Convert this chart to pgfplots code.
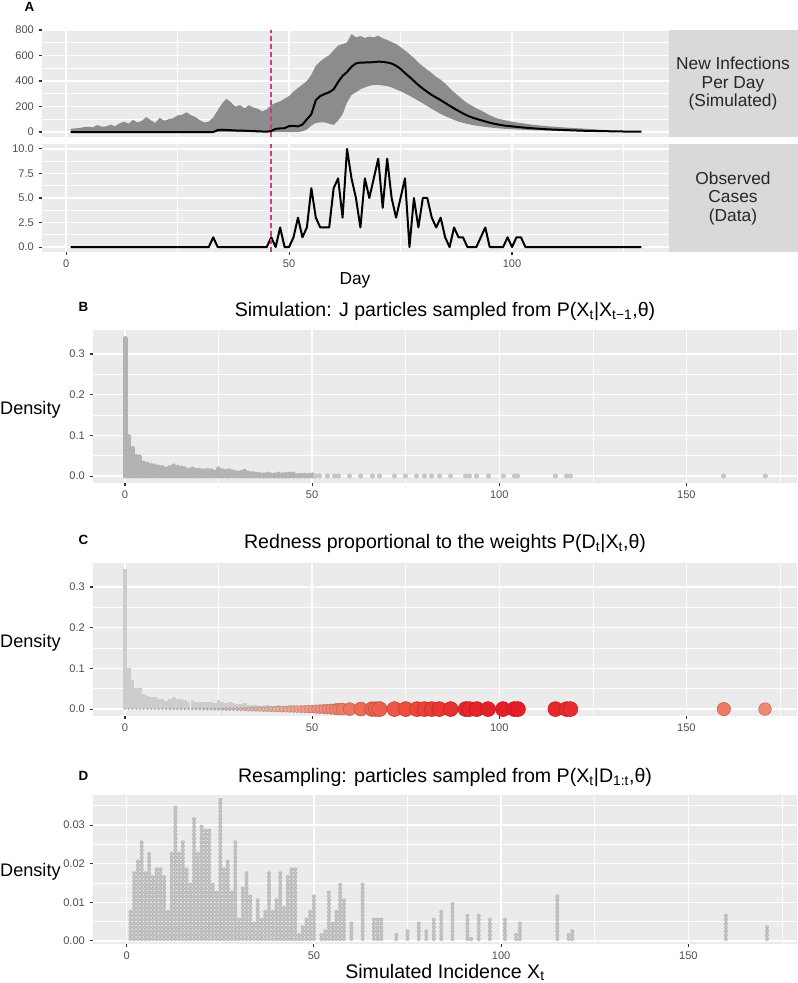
\documentclass[border=0pt]{standalone}
\usepackage{fontspec}
\setmainfont{Liberation Sans}
\usepackage{pgfplots}
\pgfplotsset{compat=1.18}
\usepackage{pgfplotstable}
\definecolor{panelbg}{HTML}{EBEBEB}
\definecolor{stripbg}{HTML}{D9D9D9}
\definecolor{tlab}{HTML}{4D4D4D}
\definecolor{tickc}{HTML}{333333}
\definecolor{ribbon}{HTML}{8C8C8C}
\definecolor{vline}{HTML}{CF3A86}
\definecolor{dotB}{HTML}{B3B3B3}
\definecolor{dotBs}{HTML}{C6C6C6}
\definecolor{barC}{HTML}{CDCDCD}
\definecolor{dotDo}{HTML}{B6B6B6}
\definecolor{dotDi}{HTML}{C6C6C6}

\pgfplotstableread{
x y
0 0.338
1 0.097
2 0.068
3 0.048
4 0.047
5 0.032
6 0.029
7 0.026
8 0.025
9 0.022
10 0.021
11 0.017
12 0.021
13 0.025
14 0.022
15 0.020
16 0.018
17 0.014
18 0.018
19 0.014
20 0.014
21 0.013
22 0.014
23 0.013
24 0.010
25 0.018
26 0.013
27 0.012
28 0.013
29 0.010
30 0.008
31 0.009
32 0.012
33 0.007
34 0.006
35 0.005
36 0.004
37 0.003
38 0.005
39 0.003
40 0.003
41 0.005
42 0.003
43 0.004
44 0.005
45 0.005
46 0.001
47 0.002
48 0.002
49 0.002
50 0.003
}\histB

\pgfplotstableread{
x y
51 0.0005
52 0.0005
54 0.0005
56 0.0005
57 0.0005
60 0.0005
63 0.0005
66 0.0005
68 0.0005
72 0.0005
75 0.0005
78 0.0005
80 0.0005
82 0.0005
84 0.0005
87 0.0005
91 0.0005
92 0.0005
94 0.0005
97 0.0005
101 0.0005
104 0.0005
105 0.0005
115 0.0005
118 0.0005
119 0.0005
160 0.0005
171 0.0005
}\sparseB

\pgfplotstableread{
x y
0 0.344
1 0.101
2 0.072
3 0.052
4 0.051
5 0.036
6 0.033
7 0.030
8 0.029
9 0.026
10 0.025
11 0.021
12 0.025
13 0.029
14 0.026
15 0.024
16 0.022
17 0.018
18 0.022
19 0.018
20 0.018
21 0.017
22 0.018
23 0.017
24 0.014
25 0.022
26 0.017
27 0.016
28 0.017
29 0.014
30 0.012
31 0.013
32 0.016
33 0.011
34 0.010
35 0.009
36 0.008
37 0.007
38 0.009
39 0.007
40 0.007
41 0.009
42 0.007
43 0.008
44 0.009
45 0.009
46 0.005
47 0.006
48 0.006
49 0.006
50 0.007
}\histC

\pgfplotstableread{
x y w r
0 0 0 0.38
1 0 0 0.38
2 0 0 0.38
3 0 0 0.39
4 0 0 0.39
5 0 0 0.40
6 0 0 0.41
7 0 0 0.42
8 0 0 0.44
9 0 0 0.46
10 0 0 0.48
11 0 0.002 0.50
12 0 0.005 0.53
13 0 0.009 0.55
14 0 0.013 0.58
15 0 0.018 0.61
16 0 0.023 0.65
17 0 0.029 0.68
18 0 0.035 0.72
19 0 0.041 0.76
20 0 0.048 0.80
21 0 0.055 0.84
22 0 0.063 0.88
23 0 0.071 0.93
24 0 0.079 0.98
25 0 0.088 1.03
26 0 0.097 1.08
27 0 0.106 1.14
28 0 0.116 1.20
29 0 0.126 1.26
30 0 0.136 1.32
31 0 0.147 1.38
32 0 0.158 1.45
33 0 0.169 1.52
34 0 0.180 1.59
35 0 0.192 1.66
36 0 0.204 1.74
37 0 0.216 1.81
38 0 0.228 1.89
39 0 0.241 1.97
40 0 0.254 2.06
41 0 0.267 2.14
42 0 0.280 2.23
43 0 0.293 2.32
44 0 0.307 2.41
45 0 0.321 2.50
46 0 0.335 2.60
47 0 0.349 2.70
48 0 0.363 2.80
49 0 0.378 2.90
50 0 0.392 3.00
51 0 0.40 3.2
52 0 0.42 3.4
53 0 0.44 3.55
54 0 0.46 3.75
55 0 0.48 3.9
56 0 0.50 4.1
57 0 0.52 4.3
58 0 0.54 4.45
60 0 0.57 4.8
63 0 0.62 5.2
66 0 0.66 5.5
67 0 0.67 5.5
68 0 0.69 5.6
72 0 0.74 5.6
75 0 0.78 5.6
78 0 0.82 5.6
80 0 0.84 5.6
82 0 0.87 5.6
84 0 0.89 5.6
87 0 0.92 5.6
91 0 0.96 5.6
92 0 0.97 5.6
94 0 0.98 5.6
97 0 0.99 5.6
101 0 1.00 5.6
104 0 1.00 5.6
105 0 1.00 5.6
115 0 0.96 5.6
118 0 0.94 5.6
119 0 0.93 5.6
160 0 0.55 5.0
171 0 0.48 4.75
}\dotsC

\pgfplotstableread{
x y
1 0.0085
2 0.0184
3 0.0206
4 0.0265
5 0.0176
6 0.0226
7 0.0166
8 0.0186
9 0.0195
10 0.0166
11 0.0085
12 0.0226
13 0.0347
14 0.0226
15 0.0265
16 0.0186
17 0.0146
18 0.0325
19 0.0226
20 0.0305
21 0.0290
22 0.0286
23 0.0146
24 0.0133
25 0.0366
26 0.0195
27 0.0215
28 0.0128
29 0.0265
30 0.0060
31 0.0137
32 0.0176
33 0.0116
34 0.0055
35 0.0115
36 0.0060
37 0.0085
38 0.0176
39 0.0085
40 0.0115
41 0.0176
42 0.0094
43 0.0166
44 0.0186
45 0.0186
46 0.0025
47 0.0042
48 0.0064
49 0.0077
50 0.0124
52 0.0025
53 0.0034
54 0.0133
55 0.0055
56 0.0085
57 0.0146
58 0.0107
60 0.0055
63 0.0146
66 0.0064
67 0.0064
68 0.0060
72 0.0025
75 0.0034
78 0.0055
80 0.0034
82 0.0064
84 0.0085
87 0.0104
91 0.0074
92 0.0014
94 0.0074
97 0.0064
101 0.0064
104 0.0025
105 0.0055
115 0.0124
118 0.0023
119 0.0034
160 0.0074
171 0.0045
}\histD

\pgfplotsset{
  gg/.style={
    scale only axis,
    anchor=south west,
    axis background/.style={fill=panelbg},
    axis x line*=bottom, axis y line*=left,
    axis line style={draw=none},
    tick align=outside,
    major tick length=2.6pt,
    minor tick length=0pt,
    tick style={draw=tickc, line width=0.8pt},
    tick label style={font=\fontsize{8.3}{10}\selectfont, text=tlab},
    xmajorgrids, ymajorgrids, xminorgrids, yminorgrids,
    major grid style={draw=white, line width=1.05pt},
    minor grid style={draw=white, line width=0.5pt},
    /pgf/number format/assume math mode=true,
    scaled y ticks=false, scaled x ticks=false,
  },
}
\newcommand\bigA{\fontsize{13}{13.9}\selectfont}
\newcommand\bigB{\fontsize{14.7}{17}\selectfont}
\newcommand\dens{\fontsize{13.6}{16}\selectfont}
\newcommand\plab{\bfseries\fontsize{10}{12}\selectfont}

\begin{document}
\begin{tikzpicture}
\useasboundingbox (0,0) rectangle (598.5pt,737.25pt);
% facet strips
\fill[stripbg] (501.75pt,634.5pt) rectangle (598.5pt,714.75pt);
\fill[stripbg] (501.75pt,548.25pt) rectangle (598.5pt,629.25pt);
\node[align=center, font=\bigA, text=black!85] at (549.75pt,674.4pt) {New Infections\\Per Day\\(Simulated)};
\node[align=center, font=\bigA, text=black!85] at (549.75pt,588.5pt) {Observed\\Cases\\(Data)};

% ---------- Panel A, top ----------
\begin{axis}[gg, at={(31.5pt,634.5pt)}, width=470.25pt, height=80.25pt,
  xmin=-5.4, xmax=135.2, ymin=-39, ymax=800,
  xtick={0,50,100}, minor xtick={25,75,125}, xticklabels={}, xmajorticks=false,
  ytick={0,200,400,600,800}, minor ytick={100,300,500,700}]
\addplot[fill=ribbon, draw=none] coordinates {
(1,25)(2,28)(3,32)(4,38)(5,42)(6,36)(7,55)(8,42)(9,44)(10,58)(11,45)(12,68)(13,82)(14,65)(15,95)(16,75)(17,88)(18,118)(19,92)(20,72)(21,112)(22,88)(23,100)(24,108)(25,130)(26,135)(27,155)(28,132)(29,118)(30,92)(31,75)(32,82)(33,115)(34,170)(35,225)(36,260)(37,232)(38,198)(39,212)(40,185)(41,210)(42,192)(43,182)(44,162)(45,178)(46,212)(47,228)(48,240)(49,262)(50,282)(51,318)(52,345)(53,372)(54,400)(55,450)(56,520)(57,555)(58,580)(59,602)(60,640)(61,678)(62,690)(63,702)(64,768)(65,742)(66,752)(67,738)(68,748)(69,742)(70,755)(71,735)(72,722)(73,705)(74,690)(75,665)(76,640)(77,610)(78,580)(79,545)(80,515)(81,488)(82,462)(83,432)(84,410)(85,380)(86,345)(87,312)(88,282)(89,252)(90,226)(91,205)(92,186)(93,170)(94,150)(95,132)(96,116)(97,104)(98,95)(99,88)(100,81)(102,70)(104,60)(106,52)(108,45)(110,40)(113,33)(116,27)(119,20)(122,12)(125,8)(129,5)
(129,2)(125,3)(120,4)(115,6)(110,9)(105,14)(100,21)(98,26)(96,32)(94,40)(92,50)(90,63)(89,72)(88,82)(87,95)(86,110)(85,125)(84,142)(83,162)(82,182)(81,203)(80,225)(79,245)(78,265)(77,285)(76,302)(75,320)(74,335)(73,350)(72,360)(71,365)(70,370)(69,370)(68,362)(67,350)(66,335)(65,312)(64,290)(63,230)(62,140)(61,90)(60,55)(59,65)(58,75)(57,75)(56,72)(55,50)(54,20)(53,5)(52,0)(1,0)
} -- cycle;
\addplot[black, line width=1.5pt, line join=round] coordinates {
(1,0)(33,0)(34,15)(35,18)(36,16)(37,14)(38,12)(40,10)(42,7)(44,4)(45,3)(46,8)(47,25)(48,28)(49,30)(50,46)(51,48)(52,44)(53,58)(54,100)(55,140)(56,250)(57,282)(58,298)(59,312)(60,335)(61,392)(62,440)(63,470)(64,512)(65,538)(66,545)(67,545)(68,546)(69,548)(70,552)(71,550)(72,545)(73,537)(74,520)(75,495)(76,462)(77,432)(78,400)(79,368)(80,340)(81,315)(82,290)(83,270)(84,250)(85,228)(86,206)(87,185)(88,165)(89,146)(90,128)(91,115)(92,103)(93,93)(94,83)(95,73)(96,65)(97,58)(98,52)(100,44)(102,37)(105,28)(108,21)(112,15)(116,10)(120,7)(125,4)(129,3)
};
\addplot[vline, line width=1.4pt, dash pattern=on 3.6pt off 2.4pt] coordinates {(46,-39)(46,800)};
\end{axis}

% ---------- Panel A, bottom ----------
\begin{axis}[gg, at={(31.5pt,548.25pt)}, width=470.25pt, height=81pt,
  xmin=-5.4, xmax=135.2, ymin=-0.5, ymax=10.5,
  xtick={0,50,100}, minor xtick={25,75,125},
  ytick={0,2.5,5,7.5,10}, minor ytick={1.25,3.75,6.25,8.75},
  yticklabel style={/pgf/number format/.cd, fixed, fixed zerofill, precision=1}]
\addplot[black, line width=1.5pt, line join=round] coordinates {
(1,0)(32,0)(33,1)(34,0)(45,0)(46,1)(47,0)(48,2)(49,0)(50,0)(51,1)(52,3)(53,1)(54,2)(55,6)(56,3)(57,2)(58,2)(59,2)(60,6)(61,7)(62,3)(63,10)(64,7)(65,5)(66,2)(67,7)(68,5)(69,7)(70,9)(71,4)(72,9)(73,5)(74,3)(75,5)(76,7)(77,0)(78,5)(79,2)(80,5)(81,5)(82,3)(83,2)(84,3)(85,1)(86,0)(87,2)(88,1)(89,1)(90,0)(92,0)(93,1)(94,2)(95,0)(98,0)(99,1)(100,0)(101,1)(102,1)(103,0)(129,0)
};
\addplot[vline, line width=1.4pt, dash pattern=on 3.6pt off 2.4pt] coordinates {(46,-0.5)(46,10.5)};
\end{axis}
\node[anchor=base, font=\bigA] at (266.25pt,523.5pt) {Day};
\node[anchor=base west, font=\plab] at (15pt,728.25pt) {A};

% ---------- Panel B ----------
\begin{axis}[gg, at={(69.75pt,375pt)}, width=528pt, height=114.75pt,
  xmin=-8.55, xmax=179.55, ymin=-0.017, ymax=0.359,
  xtick={0,50,100,150}, minor xtick={25,75,125,175},
  ytick={0,0.1,0.2,0.3}, minor ytick={0.05,0.15,0.25},
  yticklabel style={/pgf/number format/.cd, fixed, fixed zerofill, precision=1}]
\addplot[ycomb, dotB, line width=3.75pt, line cap=round] table {\histB};
\addplot[ycomb, dotBs, line width=3.75pt, line cap=round] table {\sparseB};
\end{axis}
\node[anchor=base west, font=\plab] at (55.5pt,503.5pt) {B};
\node[anchor=base, font=\bigB] at (333.75pt,499.5pt) {Simulation: J particles sampled from P(X\textsubscript{t}|X\textsubscript{t−1},θ)};
\node[anchor=base east, font=\dens] at (49pt,426pt) {Density};

% ---------- Panel C ----------
\begin{axis}[gg, at={(69.75pt,200.25pt)}, width=528pt, height=114.75pt,
  xmin=-8.55, xmax=179.55, ymin=-0.017, ymax=0.359,
  xtick={0,50,100,150}, minor xtick={25,75,125,175},
  ytick={0,0.1,0.2,0.3}, minor ytick={0.05,0.15,0.25},
  yticklabel style={/pgf/number format/.cd, fixed, fixed zerofill, precision=1},
  colormap={redness}{rgb255(0pt)=(206,206,206); rgb255(35pt)=(242,160,140); rgb255(60pt)=(238,111,90); rgb255(80pt)=(236,74,58); rgb255(100pt)=(230,30,40)},
  point meta min=0, point meta max=1]
\addplot[ycomb, barC, line width=2.8pt, line cap=butt] table {\histC};
\addplot[scatter, only marks, mark=*, point meta=explicit,
  visualization depends on={\thisrow{r}\as\rr},
  scatter/@pre marker code/.append style={/tikz/mark size=\rr pt}]
  table[x=x, y=y, meta=w] {\dotsC};
\end{axis}
\node[anchor=base west, font=\plab] at (55.5pt,328.5pt) {C};
\node[anchor=base, font=\bigB] at (333.75pt,325.5pt) {Redness proportional to the weights P(D\textsubscript{t}|X\textsubscript{t},θ)};
\node[anchor=base east, font=\dens] at (49pt,251.25pt) {Density};

% ---------- Panel D ----------
\begin{axis}[gg, at={(69.75pt,29.25pt)}, width=528pt, height=111.75pt,
  xmin=-9, xmax=179, ymin=-0.0008, ymax=0.0378,
  xtick={0,50,100,150}, minor xtick={25,75,125,175},
  ytick={0,0.01,0.02,0.03}, minor ytick={0.005,0.015,0.025,0.035},
  yticklabel style={/pgf/number format/.cd, fixed, fixed zerofill, precision=2}]
\addplot[ycomb, dotDo, line width=3.0pt, line cap=round, dash pattern=on 0pt off 2.9pt, dash phase=1.45pt] table {\histD};
\addplot[ycomb, dotDi, line width=2.1pt, line cap=round, dash pattern=on 0pt off 2.9pt, dash phase=1.45pt] table {\histD};
\end{axis}
\node[anchor=base west, font=\plab] at (55.5pt,151.5pt) {D};
\node[anchor=base, font=\bigB] at (333.75pt,150.2pt) {Resampling: particles sampled from P(X\textsubscript{t}|D\textsubscript{1:t},θ)};
\node[anchor=base east, font=\dens] at (49pt,79.5pt) {Density};
\node[anchor=base, font=\bigB] at (333.75pt,3.75pt) {Simulated Incidence X\textsubscript{t}};
\end{tikzpicture}
\end{document}
